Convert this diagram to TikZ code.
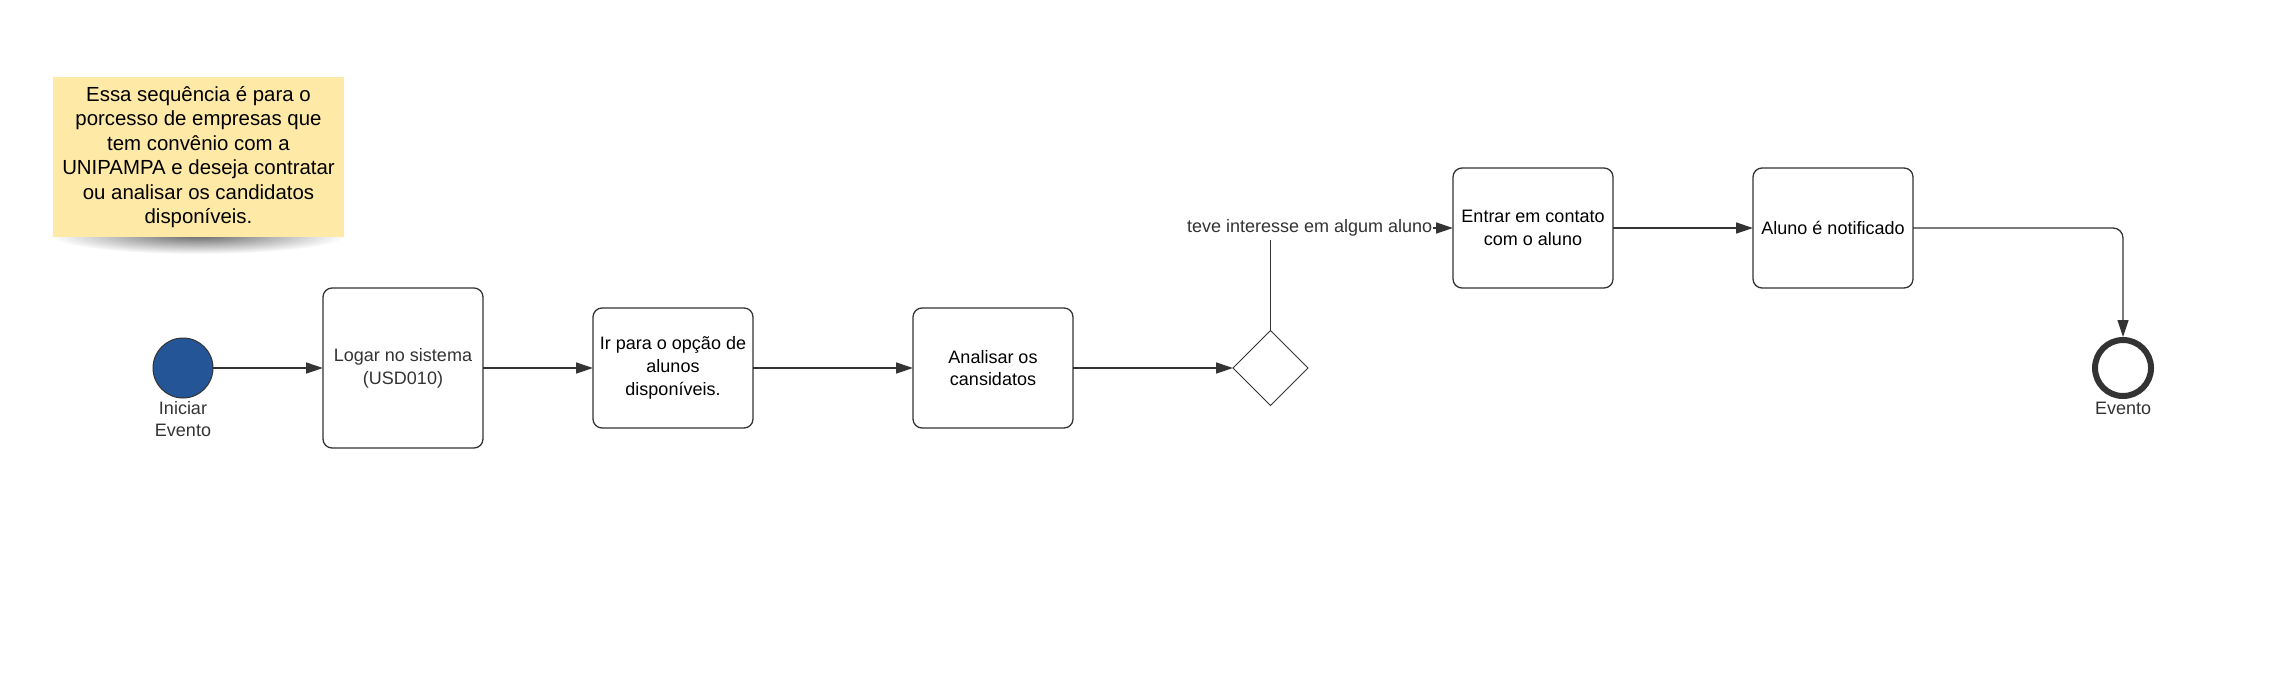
\documentclass[tikz,border=0pt]{standalone}
\usepackage{fontspec}
\setmainfont{Liberation Sans}
\usetikzlibrary{shapes,arrows.meta,positioning,fadings}

\definecolor{Line}{RGB}{51,51,51}
\definecolor{StartBlue}{RGB}{36,85,150}
\definecolor{Sticky}{RGB}{254,233,166}

\tikzfading[name=soft shadow, inner color=transparent!0, outer color=transparent!100]

\tikzstyle{Task} = [draw=Line, line width=1.3pt, rectangle, rounded corners=9pt, outer sep=0pt, minimum height=120pt, minimum width=160pt, align=center, font=\fontsize{18}{22.7}\selectfont]
\tikzstyle{Start} = [draw=Line, line width=1pt, circle, fill=StartBlue, outer sep=0pt, minimum size=60pt, inner sep=0pt]
\tikzstyle{End} = [draw=Line, line width=6pt, circle, minimum size=56pt, inner sep=0pt]
\tikzstyle{Gate} = [draw=Line, line width=1pt, diamond, outer sep=0pt, minimum size=75pt, inner sep=0pt]
\tikzstyle{Caption} = [text=Line, align=center, inner sep=0pt, font=\fontsize{18}{22}\selectfont]
\tikzstyle{Note} = [fill=Sticky, rectangle, minimum width=291pt, minimum height=160pt, align=center, font=\fontsize{20.4}{24.5}\selectfont]
\tikzstyle{Flow} = [draw=Line, line width=1.3pt, -{Triangle[length=17pt,width=11pt]}]

\begin{document}
\begin{tikzpicture}[x=1pt, y=-1pt]
    \useasboundingbox (0,0) rectangle (2280,699);
    \fill[black, opacity=0.6, path fading=soft shadow] (198,235) ellipse (148 and 19);
    \node[Note]    (note)      at (198.5,157)           {Essa sequência é para o\\porcesso de empresas que\\tem convênio com a\\UNIPAMPA e deseja contratar\\ou analisar os candidatos\\disponíveis.};
    \node[Start]   (start)     at (183,368)             {};
    \node[Caption] (startname) [below=3pt of start]     {Iniciar\\Evento};
    \node[Task, minimum height=160pt, text=Line] (logar) [right=110pt of start] {Logar no sistema\\(USD010)};
    \node[Task]    (alunos)    [right=110pt of logar]   {Ir para o opção de\\alunos\\disponíveis.};
    \node[Task]    (analisar)  [right=160pt of alunos]  {Analisar os\\cansidatos};
    \node[Gate]    (gate)      [right=160pt of analisar] {};
    \node[Task]    (contato)   at (1533,228)            {Entrar em contato\\com o aluno};
    \node[Task]    (notifica)  [right=140pt of contato] {Aluno é notificado};
    \node[End]     (end)       at (2123,368)            {};
    \node[Caption] (endname)   [below=3pt of end]       {Evento};
    \draw[Flow] (start)    to (logar);
    \draw[Flow] (logar)    to (alunos);
    \draw[Flow] (alunos)   to (analisar);
    \draw[Flow] (analisar) to (gate);
    \draw[Flow] (gate) |- node[pos=0.607, fill=white, text=Line, inner xsep=1pt, inner ysep=3.5pt, font=\fontsize{18}{22}\selectfont] {teve interesse em algum aluno} (contato);
    \draw[Flow] (contato)  to (notifica);
    \draw[Flow, rounded corners=10pt] (notifica) -| (end);
  \end{tikzpicture}
\end{document}
